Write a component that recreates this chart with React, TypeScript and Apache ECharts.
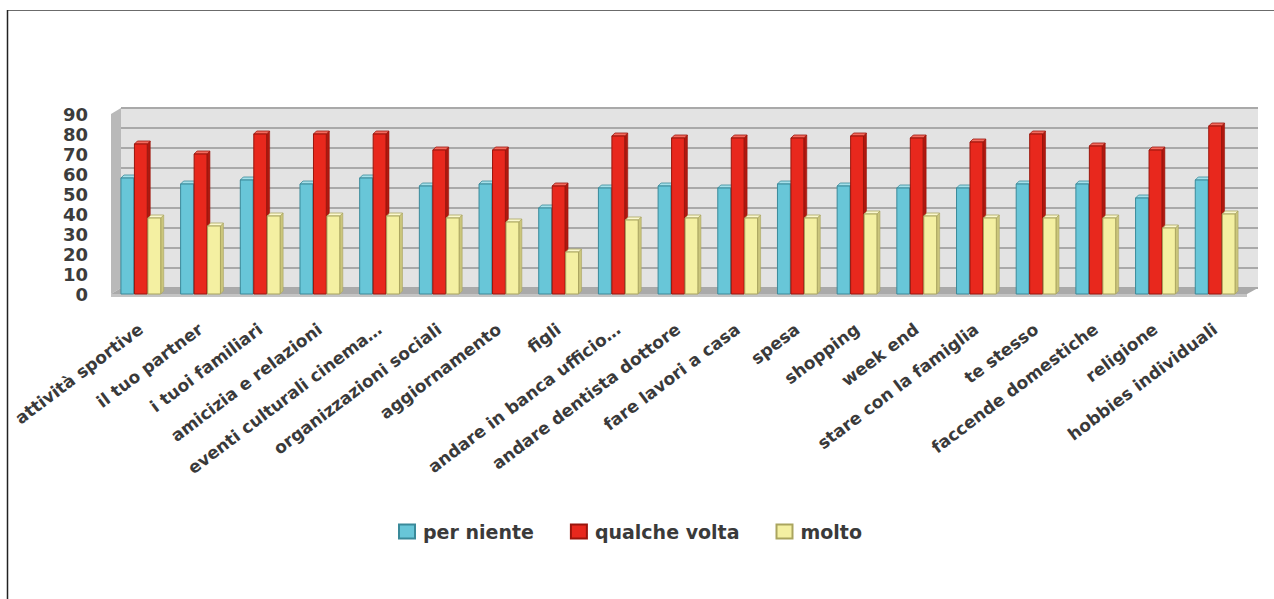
import React, { useEffect, useRef } from "react";
import * as echarts from "echarts";

// Activities asked about in the survey
const categories = [
  "attività sportive",
  "il tuo partner",
  "i tuoi familiari",
  "amicizia e relazioni",
  "eventi culturali cinema…",
  "organizzazioni sociali",
  "aggiornamento",
  "figli",
  "andare in banca ufficio…",
  "andare dentista dottore",
  "fare lavori a casa",
  "spesa",
  "shopping",
  "week end",
  "stare con la famiglia",
  "te stesso",
  "faccende domestiche",
  "religione",
  "hobbies individuali",
];

const perNiente = [58, 55, 57, 55, 58, 54, 55, 43, 53, 54, 53, 55, 54, 53, 53, 55, 55, 48, 57];
const qualcheVolta = [75, 70, 80, 80, 80, 72, 72, 54, 79, 78, 78, 78, 79, 78, 76, 80, 74, 72, 84];
const molto = [38, 34, 39, 39, 39, 38, 36, 21, 37, 38, 38, 38, 40, 39, 38, 38, 38, 33, 40];

const Y_MIN = 0;
const Y_MAX = 90;
const Y_STEP = 10;

const FONT = "'DejaVu Sans', 'Noto Sans', sans-serif";

type BarLook = {
  name: string;
  values: number[];
  fill: string;
  cap: string;
  side: string;
  border: string;
  shift: number;
};

const looks: BarLook[] = [
  { name: "per niente", values: perNiente, fill: "#68c6d8", cap: "#a4e0ea", side: "#3f9db0", border: "#3a8a9a", shift: -1 },
  { name: "qualche volta", values: qualcheVolta, fill: "#e8281d", cap: "#f56b5e", side: "#b0180f", border: "#9a150c", shift: 0 },
  { name: "molto", values: molto, fill: "#f4f0a2", cap: "#fbf8cf", side: "#cbc67c", border: "#aaa55f", shift: 1 },
];

// Column with a shallow top and right face to give it some depth
function makeRenderItem(look: BarLook) {
  return (_params: any, api: any) => {
    const idx = api.value(0);
    const val = api.value(1);
    const base = api.coord([idx, 0]);
    const top = api.coord([idx, val]);
    const band = api.size([1, 0])[0];
    const w = band * 0.215;
    const cx = base[0] + look.shift * band * 0.226;
    const x0 = cx - w / 2;
    const x1 = cx + w / 2;
    const d = 3;
    return {
      type: "group",
      children: [
        {
          type: "polygon",
          shape: { points: [[x1, top[1]], [x1 + d, top[1] - d], [x1 + d, base[1] - d], [x1, base[1]]] },
          style: { fill: look.side, stroke: look.border, lineWidth: 0.6 },
        },
        {
          type: "polygon",
          shape: { points: [[x0, top[1]], [x0 + d, top[1] - d], [x1 + d, top[1] - d], [x1, top[1]]] },
          style: { fill: look.cap, stroke: look.border, lineWidth: 0.8 },
        },
        {
          type: "rect",
          shape: { x: x0, y: top[1], width: w, height: base[1] - top[1] },
          style: { fill: look.fill, stroke: look.border, lineWidth: 1 },
        },
      ],
    };
  };
}

export default function App() {
  const ref = useRef<HTMLDivElement>(null);

  useEffect(() => {
    if (!ref.current) return;
    const chart = echarts.init(ref.current, undefined, { renderer: "svg" });

    const option: any = {
      animation: false,
      backgroundColor: "#ffffff",
      textStyle: { fontFamily: FONT },
      grid: [
        // back wall
        { left: 121, right: 16, top: 108, bottom: 311, show: true, backgroundColor: "#e3e3e3", borderWidth: 0 },
        // front plane holding the columns
        { left: 111, right: 29, top: 114, bottom: 305 },
      ],
      xAxis: [
        { gridIndex: 0, type: "category", data: categories, show: false },
        {
          gridIndex: 1,
          type: "category",
          data: categories,
          axisLine: { show: false },
          axisTick: { show: false },
          axisLabel: {
            interval: 0,
            rotate: 37,
            margin: 33,
            fontFamily: FONT,
            fontWeight: "bold",
            fontSize: 17,
            color: "#3a3a3a",
          },
        },
      ],
      yAxis: [
        {
          gridIndex: 0,
          type: "value",
          min: Y_MIN,
          max: Y_MAX,
          interval: Y_STEP,
          axisLabel: { show: false },
          axisLine: { show: false },
          axisTick: { show: false },
          splitLine: { show: true, lineStyle: { color: "#a9a9a9", width: 2 } },
        },
        {
          gridIndex: 1,
          type: "value",
          min: Y_MIN,
          max: Y_MAX,
          interval: Y_STEP,
          axisLine: { show: false },
          axisTick: { show: false },
          splitLine: { show: false },
          axisLabel: {
            margin: 23,
            fontFamily: FONT,
            fontWeight: "bold",
            fontSize: 18,
            lineHeight: 18,
            color: "#3c3c3c",
          },
        },
      ],
      legend: {
        left: 393,
        top: 517,
        icon: "rect",
        itemWidth: 16,
        itemHeight: 14,
        itemGap: 36,
        textStyle: { fontFamily: FONT, fontWeight: "bold", fontSize: 19, color: "#3a3a3a", padding: [0, 0, 0, 3] },
        data: looks.map((l) => l.name),
      },
      graphic: [
        { type: "line", z: 10, shape: { x1: 7, y1: 10.5, x2: 1274, y2: 10.5 }, style: { stroke: "#6b6b6b", lineWidth: 1.2 } },
        { type: "line", z: 10, shape: { x1: 7.5, y1: 10, x2: 7.5, y2: 599 }, style: { stroke: "#222222", lineWidth: 1.5 } },
        // left side wall
        { type: "polygon", z: 1, shape: { points: [[111, 114], [121, 108], [121, 288], [111, 294]] }, style: { fill: "#b9b9b9" } },
        // floor
        { type: "polygon", z: 1, shape: { points: [[111, 294], [121, 288], [1258, 288], [1247, 294]] }, style: { fill: "#aaaaaa" } },
        { type: "rect", z: 1, shape: { x: 111, y: 294, width: 1136, height: 3 }, style: { fill: "#c4c4c4" } },
      ],
      series: looks.map((look) => ({
        type: "custom",
        name: look.name,
        xAxisIndex: 1,
        yAxisIndex: 1,
        z: 3,
        itemStyle: { color: look.fill, borderColor: look.border, borderWidth: 1 },
        encode: { x: 0, y: 1 },
        renderItem: makeRenderItem(look),
        data: look.values.map((v, i) => [i, v]),
      })),
    };

    chart.setOption(option);
    return () => chart.dispose();
  }, []);

  return (
    <div
      ref={ref}
      style={{ position: "fixed", left: 0, top: 0, width: 1274, height: 599 }}
    />
  );
}
